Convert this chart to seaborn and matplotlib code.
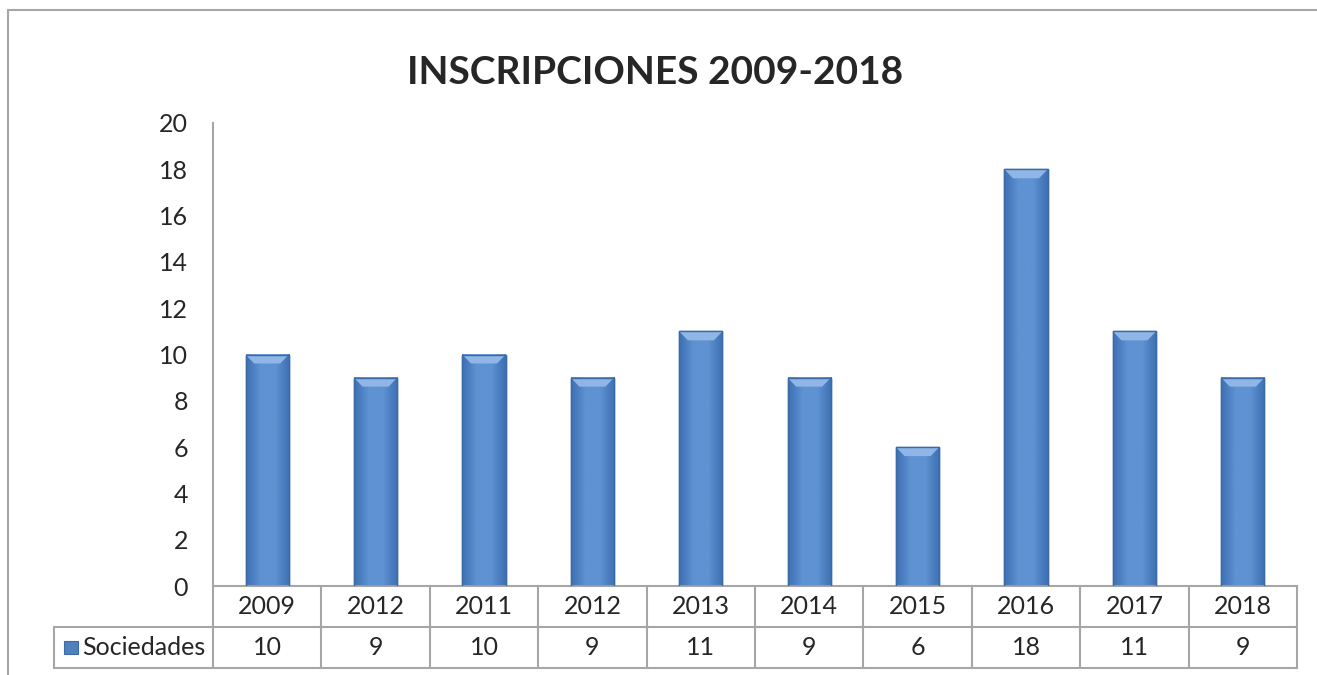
import numpy as np
import pandas as pd
import seaborn as sns
from matplotlib import pyplot as plt
from matplotlib.lines import Line2D
from matplotlib.patches import Rectangle, Polygon
from matplotlib.colors import LinearSegmentedColormap
from matplotlib.transforms import blended_transform_factory

# datos del grafico
anios = ['2009', '2012', '2011', '2012', '2013', '2014', '2015', '2016', '2017', '2018']
sociedades = [10, 9, 10, 9, 11, 9, 6, 18, 11, 9]
serie = 'Sociedades'
titulo = 'INSCRIPCIONES 2009-2018'
y_ticks = list(range(0, 21, 2))

sns.set_theme(style='white')
plt.rcParams['font.family'] = ['Lato', 'DejaVu Sans']

gris = '#a6a6a6'
texto = '#262626'
fs = 18

df = pd.DataFrame({'pos': range(len(anios)), 'valor': sociedades})

fig = plt.figure(figsize=(13.17, 6.75), dpi=100)
ax = fig.add_axes([213 / 1317, 89 / 675, 1084 / 1317, 463 / 675])

sns.barplot(data=df, x='pos', y='valor', color='#4f81bd', width=0.4, saturation=1,
            edgecolor='#3b6aa5', linewidth=1, ax=ax)

ax.set_xlim(-0.5, len(anios) - 0.5)
ax.set_ylim(0, 20)
ax.set_yticks(y_ticks)
ax.set_xticks([])
ax.set_xlabel('')
ax.set_ylabel('')
ax.tick_params(axis='y', length=0, pad=18, labelsize=fs, labelcolor=texto)

# efecto de bisel en las barras (gradiente + borde superior claro)
cmap = LinearSegmentedColormap.from_list('bisel', ['#3d70b4', '#5e92d2', '#5e92d2', '#3d70b4'])
grad = np.linspace(0, 1, 64).reshape(1, -1)
dy = 9 / 463 * 20
for p in list(ax.patches):
    x0, w, h = p.get_x(), p.get_width(), p.get_height()
    ax.imshow(grad, cmap=cmap, extent=(x0, x0 + w, 0, h), aspect='auto', zorder=2)
    top = Polygon([(x0, h), (x0 + w, h), (x0 + 0.8 * w, h - dy), (x0 + 0.2 * w, h - dy)],
                  closed=True, facecolor='#8fb6e6', edgecolor='none', zorder=3)
    ax.add_patch(top)
    ax.add_patch(Rectangle((x0, 0), w, h, facecolor='none', edgecolor='#3b6aa5', lw=1, zorder=4))
ax.set_xlim(-0.5, len(anios) - 0.5)
ax.set_ylim(0, 20)

for s in ['top', 'right']:
    ax.spines[s].set_visible(False)
for s in ['left', 'bottom']:
    ax.spines[s].set_color(gris)
    ax.spines[s].set_linewidth(1.5)

# tabla de datos debajo del grafico
trans = blended_transform_factory(ax.transData, ax.transAxes)
fila = 41 / 463
izq = -159 / 1084
for i in range(len(anios) + 1):
    ax.plot([i - 0.5, i - 0.5], [0, -2 * fila], transform=trans, color=gris, lw=1.5, clip_on=False)
for yy in [-fila, -2 * fila]:
    ax.plot([izq, 1], [yy, yy], transform=ax.transAxes, color=gris, lw=1.5, clip_on=False)
ax.plot([izq, izq], [-fila, -2 * fila], transform=ax.transAxes, color=gris, lw=1.5, clip_on=False)

for i, (a, v) in enumerate(zip(anios, sociedades)):
    ax.text(i, -fila / 2, a, transform=trans, ha='center', va='center', fontsize=fs, color=texto)
    ax.text(i, -1.5 * fila, str(v), transform=trans, ha='center', va='center', fontsize=fs, color=texto)

ax.add_patch(Rectangle((-149 / 1084, -1.5 * fila - 0.015), 14 / 1084, 0.030, transform=ax.transAxes,
                       facecolor='#4f81bd', edgecolor='#3b6aa5', lw=0.8, clip_on=False))
ax.text(-131 / 1084, -1.5 * fila, serie, transform=ax.transAxes, ha='left', va='center',
        fontsize=fs, color=texto)

fig.text(655 / 1317, 1 - 84 / 675, titulo, ha='center', va='baseline', fontsize=28,
         fontweight='bold', color=texto)

# marco exterior
fig.add_artist(Line2D([8 / 1317, 1], [1 - 10 / 675] * 2, transform=fig.transFigure, color=gris, lw=1.5))
fig.add_artist(Line2D([8 / 1317] * 2, [0, 1 - 10 / 675], transform=fig.transFigure, color=gris, lw=1.5))

fig.savefig('out.png', dpi=100)
